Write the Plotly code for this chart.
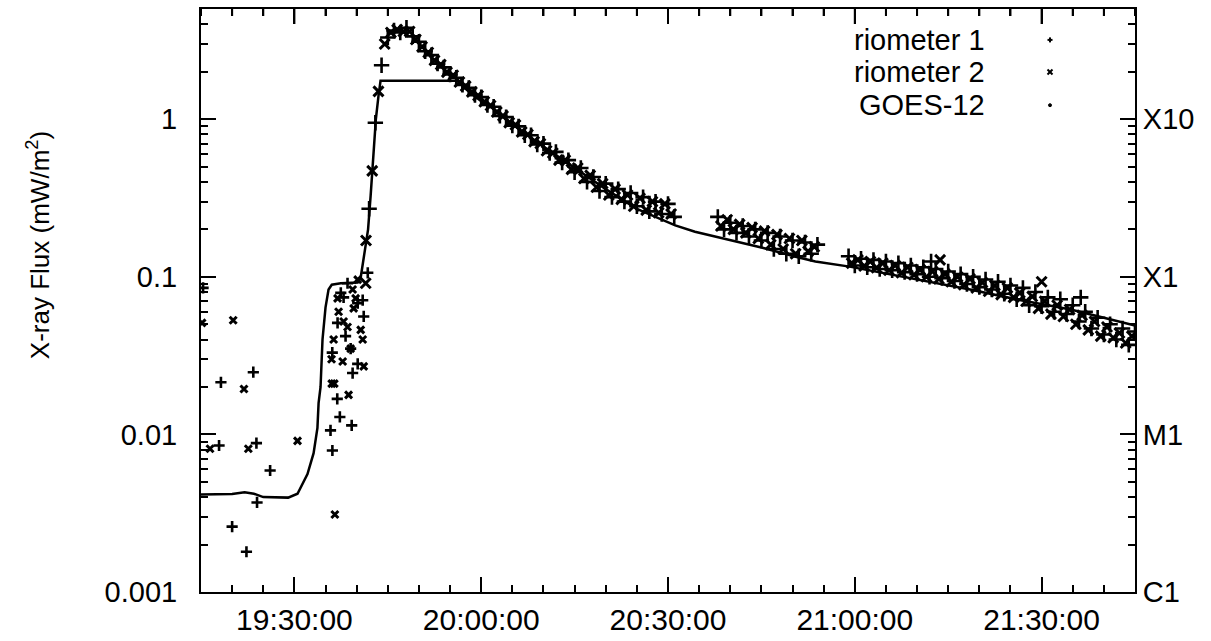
import plotly.graph_objects as go

DATE = "2003-11-04 "

# ---------------- GOES-12 (mW/m^2) ----------------
goes_time = ["19:15:00", "19:17:30", "19:20:00", "19:22:00", "19:23:30", "19:25:00", "19:27:00",
             "19:29:00", "19:30:30", "19:31:00", "19:32:06", "19:33:05", "19:33:42", "19:33:53",
             "19:34:12", "19:34:31", "19:35:00", "19:35:29", "19:36:00", "19:37:27", "19:40:10",
             "19:40:40", "19:41:10", "19:41:50", "19:42:15", "19:42:35", "19:43:05", "19:43:30",
             "19:43:50", "19:56:20", "19:57:00", "19:58:00", "20:00:00", "20:02:00", "20:05:00",
             "20:10:00", "20:15:00", "20:20:00", "20:25:00", "20:30:00", "20:31:10", "20:34:20",
             "20:38:15", "20:45:10", "20:50:30", "20:53:40", "20:59:10", "21:07:45", "21:18:30",
             "21:26:40", "21:34:40", "21:40:00", "21:45:00"]
goes_flux = [0.00416, 0.00416, 0.00418, 0.0043, 0.0042, 0.0040, 0.00397,
             0.00397, 0.0042, 0.0046, 0.0056, 0.0076, 0.011, 0.0158,
             0.020, 0.040, 0.064, 0.083, 0.089, 0.091, 0.092,
             0.100, 0.135, 0.20, 0.33, 0.50, 1.0, 1.4,
             1.75, 1.75, 1.62, 1.50, 1.30, 1.16, 0.93,
             0.67, 0.49, 0.36, 0.27, 0.222, 0.212, 0.193,
             0.177, 0.153, 0.134, 0.125, 0.116, 0.100, 0.083,
             0.071, 0.062, 0.055, 0.049]

# ---------------- riometer 1 ----------------
rio1_time = ["19:15:20", "19:17:54", "19:18:12", "19:20:00", "19:22:18", "19:23:24", "19:23:54",
             "19:24:00", "19:26:06", "19:35:48", "19:36:06", "19:37:18", "19:39:12", "19:36:05",
             "19:37:54", "19:36:56", "19:38:13", "19:39:02", "19:39:21", "19:40:10", "19:40:10",
             "19:40:58", "19:41:08", "19:38:32", "19:37:27", "19:41:47", "19:36:53",
             "19:42:00", "19:43:00", "19:44:00", "19:45:00", "19:46:00", "19:47:00", "19:48:00",
             "19:49:00", "19:50:00", "19:51:00", "19:52:00", "19:53:00", "19:54:00", "19:55:00",
             "19:56:00", "19:57:00", "19:58:00", "19:59:00", "20:00:00", "20:01:00", "20:02:00",
             "20:03:00", "20:04:00", "20:05:00", "20:06:00", "20:07:00", "20:08:00", "20:09:00",
             "20:10:00", "20:11:00", "20:12:00", "20:13:00", "20:14:00", "20:15:00", "20:16:00",
             "20:17:00", "20:18:00", "20:19:00", "20:20:00", "20:21:00", "20:22:00", "20:23:00",
             "20:24:00", "20:25:00", "20:26:00", "20:27:00", "20:28:00", "20:29:00", "20:30:00",
             "20:31:00",
             "20:38:00", "20:39:00", "20:40:00", "20:41:00", "20:42:00", "20:43:00", "20:44:00",
             "20:45:00", "20:46:00", "20:47:00", "20:48:00", "20:49:00", "20:50:00", "20:51:00",
             "20:52:00", "20:53:00", "20:54:00",
             "20:59:00", "21:00:00", "21:01:00", "21:02:00", "21:03:00", "21:04:00", "21:05:00",
             "21:06:00", "21:07:00", "21:08:00", "21:09:00", "21:10:00", "21:11:00", "21:12:00",
             "21:13:00", "21:14:00", "21:15:00", "21:16:00", "21:17:00", "21:18:00", "21:19:00",
             "21:20:00", "21:21:00", "21:22:00", "21:23:00", "21:24:00", "21:25:00", "21:26:00",
             "21:27:00", "21:28:00", "21:29:00", "21:30:00", "21:31:00", "21:32:00", "21:33:00",
             "21:34:00", "21:35:00", "21:36:00", "21:37:00", "21:38:00", "21:39:00", "21:40:00",
             "21:41:00", "21:42:00", "21:43:00", "21:44:00", "21:45:00",
             "21:12:15", "21:36:17"]
rio1_flux = [0.085, 0.0085, 0.0214, 0.0026, 0.0018, 0.0248, 0.0088,
             0.0037, 0.0059, 0.0106, 0.0079, 0.0129, 0.0114, 0.033,
             0.074, 0.051, 0.042, 0.035, 0.0245, 0.028, 0.068,
             0.071, 0.056, 0.091, 0.079, 0.106, 0.0168,
             0.27, 0.95, 2.2, 3.3, 3.65, 3.55, 3.8,
             3.35, 3.1, 2.7, 2.55, 2.25, 2.13, 1.92,
             1.83, 1.65, 1.58, 1.42, 1.38, 1.23, 1.20,
             1.05, 1.03, 0.91, 0.90, 0.79, 0.79, 0.69,
             0.70, 0.61, 0.62, 0.53, 0.55, 0.46, 0.49,
             0.40, 0.43, 0.35, 0.39, 0.32, 0.36, 0.30,
             0.34, 0.28, 0.32, 0.26, 0.30, 0.25, 0.29,
             0.24,
             0.24, 0.20, 0.22, 0.19, 0.21, 0.18, 0.20,
             0.17, 0.19, 0.15, 0.18, 0.14, 0.17, 0.135,
             0.165, 0.14, 0.16,
             0.135, 0.118, 0.13, 0.115, 0.128, 0.112, 0.125,
             0.11, 0.122, 0.107, 0.118, 0.104, 0.115, 0.10,
             0.112, 0.098, 0.108, 0.094, 0.104, 0.09, 0.10,
             0.086, 0.096, 0.083, 0.093, 0.078, 0.088, 0.072,
             0.085, 0.066, 0.08, 0.065, 0.074, 0.06, 0.072,
             0.058, 0.066, 0.052, 0.06, 0.047, 0.055, 0.043,
             0.05, 0.04, 0.047, 0.037, 0.045,
             0.125, 0.074]

# ---------------- riometer 2 ----------------
rio2_time = ["19:15:10", "19:16:27", "19:20:10", "19:21:54", "19:22:36", "19:30:30", "19:36:30",
             "19:36:00", "19:36:24", "19:38:42", "19:35:58", "19:36:18", "19:37:06", "19:37:45",
             "19:38:32", "19:39:31", "19:39:50", "19:40:39", "19:40:58", "19:41:08", "19:39:21",
             "19:41:27", "19:40:10", "19:36:56", "19:39:02", "19:37:54",
             "19:41:30", "19:42:30", "19:43:30", "19:44:30", "19:45:30", "19:46:30", "19:47:30",
             "19:48:30", "19:49:30", "19:50:30", "19:51:30", "19:52:30", "19:53:30", "19:54:30",
             "19:55:30", "19:56:30", "19:57:30", "19:58:30", "19:59:30", "20:00:30", "20:01:30",
             "20:02:30", "20:03:30", "20:04:30", "20:05:30", "20:06:30", "20:07:30", "20:08:30",
             "20:09:30", "20:10:30", "20:11:30", "20:12:30", "20:13:30", "20:14:30", "20:15:30",
             "20:16:30", "20:17:30", "20:18:30", "20:19:30", "20:20:30", "20:21:30", "20:22:30",
             "20:23:30", "20:24:30", "20:25:30", "20:26:30", "20:27:30", "20:28:30", "20:29:30",
             "20:30:30",
             "20:38:30", "20:39:30", "20:40:30", "20:41:30", "20:42:30", "20:43:30", "20:44:30",
             "20:45:30", "20:46:30", "20:47:30", "20:48:30", "20:49:30", "20:50:30", "20:51:30",
             "20:52:30", "20:53:30",
             "20:59:30", "21:00:30", "21:01:30", "21:02:30", "21:03:30", "21:04:30", "21:05:30",
             "21:06:30", "21:07:30", "21:08:30", "21:09:30", "21:10:30", "21:11:30", "21:12:30",
             "21:13:30", "21:14:30", "21:15:30", "21:16:30", "21:17:30", "21:18:30", "21:19:30",
             "21:20:30", "21:21:30", "21:22:30", "21:23:30", "21:24:30", "21:25:30", "21:26:30",
             "21:27:30", "21:28:30", "21:29:30", "21:30:30", "21:31:30", "21:32:30", "21:33:30",
             "21:34:30", "21:35:30", "21:36:30", "21:37:30", "21:38:30", "21:39:30", "21:40:30",
             "21:41:30", "21:42:30", "21:43:30", "21:44:30",
             "21:13:42", "21:30:00"]
rio2_flux = [0.051, 0.0081, 0.053, 0.0194, 0.0081, 0.0091, 0.0031,
             0.021, 0.021, 0.0178, 0.030, 0.040, 0.060, 0.029,
             0.048, 0.063, 0.073, 0.046, 0.040, 0.027, 0.083,
             0.091, 0.096, 0.073, 0.035, 0.052,
             0.17, 0.47, 1.5, 3.0, 3.55, 3.7, 3.6,
             3.6, 3.2, 2.88, 2.65, 2.36, 2.22, 1.99,
             1.90, 1.72, 1.62, 1.49, 1.41, 1.29, 1.22,
             1.11, 1.05, 0.95, 0.92, 0.83, 0.80, 0.72,
             0.70, 0.63, 0.61, 0.55, 0.55, 0.48, 0.49,
             0.42, 0.44, 0.37, 0.39, 0.33, 0.36, 0.31,
             0.33, 0.28, 0.315, 0.265, 0.30, 0.255, 0.29,
             0.25,
             0.21, 0.23, 0.20, 0.215, 0.19, 0.205, 0.175,
             0.195, 0.16, 0.185, 0.15, 0.175, 0.14, 0.17,
             0.145, 0.155,
             0.122, 0.128, 0.117, 0.125, 0.114, 0.122, 0.11,
             0.118, 0.106, 0.115, 0.103, 0.111, 0.10, 0.108,
             0.097, 0.104, 0.093, 0.10, 0.089, 0.097, 0.085,
             0.092, 0.081, 0.088, 0.077, 0.085, 0.074, 0.079,
             0.07, 0.075, 0.063, 0.07, 0.058, 0.066, 0.056,
             0.062, 0.05, 0.057, 0.046, 0.052, 0.042, 0.048,
             0.041, 0.044, 0.038, 0.042,
             0.128, 0.093]

# axis tick labels
left_tickvals = [0.001, 0.01, 0.1, 1]
left_ticktext = ["0.001", "0.01", "0.1", "1"]
right_ticktext = ["C1", "M1", "X1", "X10"]
legend_names = ["riometer 1", "riometer 2", "GOES-12"]
y_title = "X-ray Flux (mW/m<sup>2</sup>)"

# -------------------------------------------------------
to_dt = lambda ts: [DATE + t for t in ts]
FONT = "Liberation Sans, Arial, Helvetica, sans-serif"
PLOT_H = 641 - 9 - 49
minor_vals = [m * 10.0 ** e for e in range(-3, 1) for m in range(2, 10)]
# the dense (continuous) riometer record uses slightly bigger marks
size1 = [8 if t < "19:41:50" else 11 for t in rio1_time]
size2 = [7 if t < "19:41:20" else 10 for t in rio2_time]

fig = go.Figure()
fig.add_trace(go.Scatter(x=to_dt(goes_time), y=goes_flux, mode="lines",
                         line=dict(color="black", width=2.5), showlegend=False,
                         name="GOES-12"))
fig.add_trace(go.Scatter(x=to_dt(rio1_time), y=rio1_flux, mode="markers",
                         marker=dict(symbol="cross-thin", size=size1, color="black",
                                     opacity=1, line=dict(color="black", width=2.6)),
                         showlegend=False, name="riometer 1"))
fig.add_trace(go.Scatter(x=to_dt(rio2_time), y=rio2_flux, mode="markers",
                         marker=dict(symbol="x-thin", size=size2, color="black",
                                     opacity=1, line=dict(color="black", width=3)),
                         showlegend=False, name="riometer 2"))
# carrier for the right axis
fig.add_trace(go.Scatter(x=to_dt(goes_time), y=goes_flux, yaxis="y2", mode="lines",
                         line=dict(color="rgba(0,0,0,0)", width=0), hoverinfo="skip",
                         showlegend=False))

# tick marks hanging from the top frame (every 5 min, long every 30 min)
for k in range(31):
    hh, mm = divmod(19 * 60 + 15 + 5 * k, 60)
    tlen = 15 if mm % 30 == 0 else 7
    t = DATE + "%02d:%02d:00" % (hh, mm)
    fig.add_shape(type="line", xref="x", yref="paper", x0=t, x1=t,
                  y0=1, y1=1 - tlen / PLOT_H, layer="above",
                  line=dict(color="black", width=2))

# custom legend (text on left, symbol on right as in gnuplot)
leg_y = [0.947, 0.892, 0.835]
leg_x = 0.909
dx, dy = 2.5 / 934, 2.5 / PLOT_H
for name, yy in zip(legend_names, leg_y):
    fig.add_annotation(x=0.8415, y=yy, xref="paper", yref="paper", text=name,
                       showarrow=False, xanchor="right", yanchor="middle",
                       font=dict(family=FONT, size=29, color="black"))
sym_line = dict(color="black", width=2)
fig.add_shape(type="line", xref="paper", yref="paper", x0=leg_x - dx, x1=leg_x + dx,
              y0=leg_y[0], y1=leg_y[0], line=sym_line)
fig.add_shape(type="line", xref="paper", yref="paper", x0=leg_x, x1=leg_x,
              y0=leg_y[0] - dy, y1=leg_y[0] + dy, line=sym_line)
fig.add_shape(type="line", xref="paper", yref="paper", x0=leg_x - dx, x1=leg_x + dx,
              y0=leg_y[1] - dy, y1=leg_y[1] + dy, line=sym_line)
fig.add_shape(type="line", xref="paper", yref="paper", x0=leg_x - dx, x1=leg_x + dx,
              y0=leg_y[1] + dy, y1=leg_y[1] - dy, line=sym_line)
fig.add_shape(type="circle", xref="paper", yref="paper", x0=leg_x - dx * 0.6,
              x1=leg_x + dx * 0.6, y0=leg_y[2] - dy * 0.6, y1=leg_y[2] + dy * 0.6,
              fillcolor="black", line=dict(color="black", width=1))

fig.add_annotation(x=-0.1745, y=0.595, xref="paper", yref="paper", text=y_title,
                   textangle=-90, showarrow=False, xanchor="center", yanchor="middle",
                   font=dict(family=FONT, size=26, color="black"))

tick_common = dict(ticks="inside", ticklen=15, tickwidth=2, tickcolor="black",
                   showline=True, linewidth=2, linecolor="black",
                   showgrid=False, zeroline=False, automargin=False)
x_minor = dict(dtick=300000, ticks="inside", ticklen=7, tickwidth=2,
               tickcolor="black", showgrid=False)
y_minor = dict(tickmode="array", tickvals=minor_vals, ticks="inside",
               ticklen=7, tickwidth=2, tickcolor="black", showgrid=False)

fig.update_layout(
    width=1211, height=641,
    margin=dict(l=201, r=76, t=9, b=49),
    paper_bgcolor="white", plot_bgcolor="white",
    font=dict(family=FONT, size=29, color="black"),
    xaxis=dict(type="date", range=[DATE + "19:15:00", DATE + "21:45:00"],
               tick0=DATE + "19:30:00", dtick=1800000, tickformat="%H:%M:%S",
               minor=x_minor, ticklabelstandoff=0, mirror="ticks",
               tickfont=dict(family=FONT, size=30, color="black"), **tick_common),
    yaxis=dict(type="log", range=[-3, 0.699],
               tickmode="array", tickvals=left_tickvals, ticktext=left_ticktext,
               minor=y_minor, ticklabelstandoff=16,
               tickfont=dict(family=FONT, size=29, color="black"), **tick_common),
    yaxis2=dict(type="log", range=[-3, 0.699], overlaying="y", side="right",
                anchor="x", tickmode="array", tickvals=left_tickvals,
                ticktext=right_ticktext, minor=y_minor, ticklabelstandoff=0,
                tickfont=dict(family=FONT, size=29, color="black"), **tick_common),
)

fig.write_html("out.html", config={"displayModeBar": False})
